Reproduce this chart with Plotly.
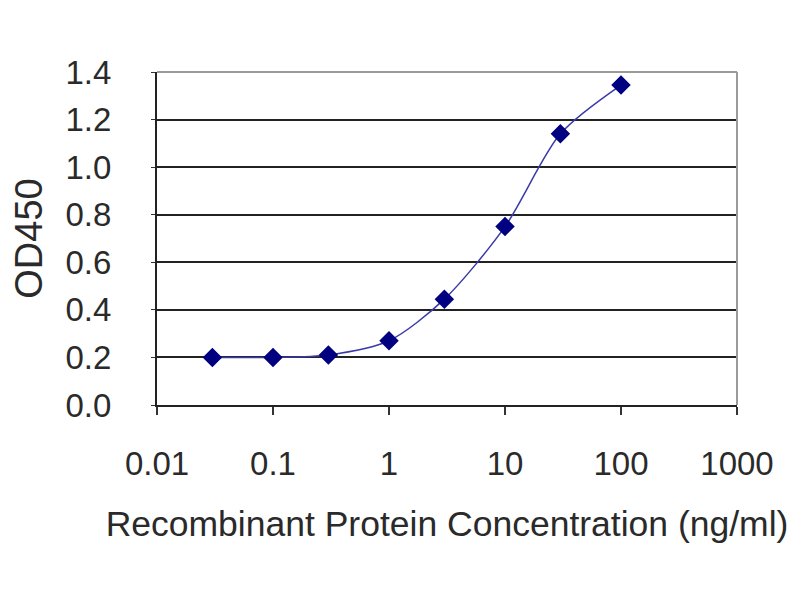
import plotly.graph_objects as go

# ELISA standard curve
concentration = [0.03, 0.1, 0.3, 1, 3, 10, 30, 100]
od450 = [0.20, 0.20, 0.21, 0.27, 0.445, 0.75, 1.14, 1.345]

x_tickvals = [0.01, 0.1, 1, 10, 100, 1000]
x_ticktext = ["0.01", "0.1", "1", "10", "100", "1000"]
y_tickvals = [0.0, 0.2, 0.4, 0.6, 0.8, 1.0, 1.2, 1.4]

fig = go.Figure()

fig.add_trace(go.Scatter(
    x=concentration,
    y=od450,
    mode="lines+markers",
    line=dict(color="#3a3aa8", width=1.5, shape="spline", smoothing=0.8),
    marker=dict(symbol="diamond", size=15, color="#000080"),
    showlegend=False,
))

font = dict(family="Arial, Liberation Sans, sans-serif", color="#2a2a2a")

fig.update_layout(
    width=800,
    height=600,
    margin=dict(l=149, r=71, t=64, b=203),
    paper_bgcolor="white",
    plot_bgcolor="white",
    font=font,
    xaxis=dict(
        type="log",
        range=[-2, 3],
        tickvals=x_tickvals,
        ticktext=x_ticktext,
        showgrid=False,
        zeroline=False,
        showline=True,
        linecolor="#222222",
        linewidth=2,
        ticks="outside",
        ticklen=8,
        tickwidth=2,
        tickcolor="#333333",
        ticklabelstandoff=20,
        tickfont=dict(size=33),
        title=dict(text="Recombinant Protein Concentration (ng/ml)",
                   font=dict(size=35.5), standoff=31),
    ),
    yaxis=dict(
        range=[0, 1.4],
        tickvals=y_tickvals,
        tickformat=".1f",
        showgrid=True,
        gridcolor="#222222",
        gridwidth=2,
        zeroline=False,
        showline=True,
        linecolor="#222222",
        linewidth=2,
        ticks="outside",
        ticklen=4,
        tickcolor="#333333",
        ticklabelstandoff=33,
        tickfont=dict(size=33),
        title=dict(text="OD450", font=dict(size=38), standoff=12),
    ),
    shapes=[
        # grey frame on top and right of the plot area
        dict(type="line", xref="paper", yref="paper", x0=0, x1=1, y0=1, y1=1,
             line=dict(color="#9a9a9a", width=2), layer="above"),
        dict(type="line", xref="paper", yref="paper", x0=1, x1=1, y0=0, y1=1,
             line=dict(color="#9a9a9a", width=2), layer="above"),
    ],
)

fig.write_html("out.html")
